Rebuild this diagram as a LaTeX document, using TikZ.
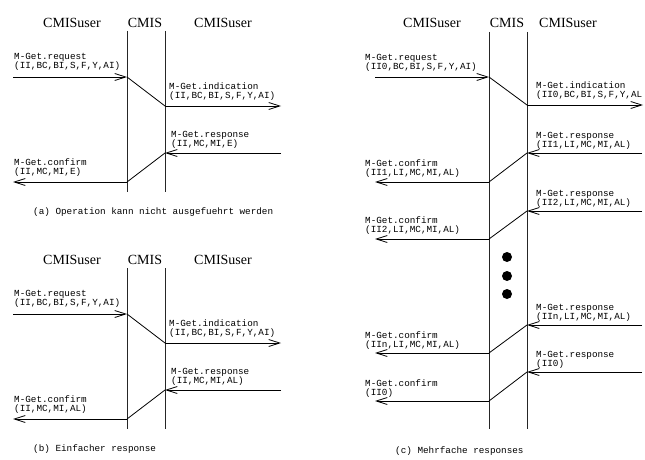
\documentclass[tikz,border=0pt]{standalone}
\usepackage{fontspec}
\setmainfont{Liberation Serif}
\setmonofont{Liberation Mono}
\usepackage{tikz}
\usetikzlibrary{arrows.meta, positioning}
\newcommand{\msgfont}{\fontsize{9.3}{9.8}\selectfont\ttfamily}
\newcommand{\headfont}{\fontsize{14}{16}\selectfont\rmfamily}

\begin{document}
\begin{tikzpicture}[
    x=1pt, y=-1pt,
    head/.style={font=\headfont, inner sep=0pt},
    msg/.style={font=\msgfont, align=left, inner sep=0pt},
    caption/.style={font=\msgfont, inner sep=0pt, anchor=west},
    lifeline/.style={line width=0.8pt, draw=black!85},
    arrow/.style={-{Straight Barb[length=11pt, width=7pt]}, line width=0.8pt},
    link/.style={line width=0.8pt},
    dot/.style={circle, fill=black, inner sep=0pt, minimum size=10pt}
]
\useasboundingbox (0,0) rectangle (645,460);

% panels (a) and (b): single request, single response
\foreach \p/\dy/\rsp/\cap in {a/0/E/{(a) Operation kann nicht ausgefuehrt werden},
                              b/237/AL/{(b) Einfacher response}} {
  \begin{scope}[yshift=-\dy pt]
    \node[head] (\p-userL) at (72,23)  {CMISuser};
    \node[head] (\p-cmis)  at (145,23) {CMIS};
    \node[head] (\p-userR) at (223,23) {CMISuser};

    \coordinate (\p-lt) at (127,31);  \coordinate (\p-lb) at (127,192);
    \coordinate (\p-rt) at (165,31);  \coordinate (\p-rb) at (165,192);
    \draw[lifeline] (\p-lt) -- (\p-lb);
    \draw[lifeline] (\p-rt) -- (\p-rb);

    \coordinate (\p-req0) at (13,77);   \coordinate (\p-req1) at (127,77);
    \coordinate (\p-ind0) at (165,106); \coordinate (\p-ind1) at (281,106);
    \coordinate (\p-rsp0) at (281,153); \coordinate (\p-rsp1) at (165,153);
    \coordinate (\p-cnf0) at (127,182); \coordinate (\p-cnf1) at (13,182);

    \draw[arrow] (\p-req0) -- (\p-req1);
    \draw[link]  (\p-req1) -- (\p-ind0);
    \draw[arrow] (\p-ind0) -- (\p-ind1);
    \draw[arrow] (\p-rsp0) -- (\p-rsp1);
    \draw[link]  (\p-rsp1) -- (\p-cnf0);
    \draw[arrow] (\p-cnf0) -- (\p-cnf1);

    \node[msg, above right=6pt and 1pt of \p-req0] (\p-reqlab)
         {M-Get.request\\(II,BC,BI,S,F,Y,AI)};
    \node[msg, above right=5pt and 4pt of \p-ind0] (\p-indlab)
         {M-Get.indication\\(II,BC,BI,S,F,Y,AI)};
    \node[msg, above right=4pt and 6pt of \p-rsp1] (\p-rsplab)
         {M-Get.response\\(II,MC,MI,\rsp)};
    \node[msg, above right=5pt and 1pt of \p-cnf1] (\p-cnflab)
         {M-Get.confirm\\(II,MC,MI,\rsp)};

    \node[caption] (\p-caption) at (33,212) {\cap};
  \end{scope}
}

% panel (c): multiple responses
\node[head] (c-userL) at (432,23) {CMISuser};
\node[head] (c-cmis)  at (507,23) {CMIS};
\node[head] (c-userR) at (568,23) {CMISuser};

\coordinate (c-lt) at (489,32);  \coordinate (c-lb) at (489,429);
\coordinate (c-rt) at (527,32);  \coordinate (c-rb) at (527,429);
\draw[lifeline] (c-lt) -- (c-lb);
\draw[lifeline] (c-rt) -- (c-rb);

\coordinate (c-req0) at (375,77);  \coordinate (c-req1) at (489,77);
\coordinate (c-ind0) at (527,105); \coordinate (c-ind1) at (643,105);
\draw[arrow] (c-req0) -- (c-req1);
\draw[link]  (c-req1) -- (c-ind0);
\draw[arrow] (c-ind0) -- (c-ind1);
\node[msg, above right=5pt and -10pt of c-req0] (c-reqlab)
     {M-Get.request\\(II0,BC,BI,S,F,Y,AI)};
\node[msg, above right=5pt and 9pt of c-ind0] (c-indlab)
     {M-Get.indication\\(II0,BC,BI,S,F,Y,AL};

% response / confirm pairs
\coordinate (c-rspA0) at (642,153); \coordinate (c-rspA1) at (527,153);
\coordinate (c-cnfA0) at (489,182); \coordinate (c-cnfA1) at (375,182);
\coordinate (c-rspB0) at (642,211); \coordinate (c-rspB1) at (527,211);
\coordinate (c-cnfB0) at (489,239); \coordinate (c-cnfB1) at (375,239);
\coordinate (c-rspN0) at (642,325); \coordinate (c-rspN1) at (527,325);
\coordinate (c-cnfN0) at (489,353); \coordinate (c-cnfN1) at (375,353);
\coordinate (c-rspZ0) at (642,372); \coordinate (c-rspZ1) at (527,372);
\coordinate (c-cnfZ0) at (489,401); \coordinate (c-cnfZ1) at (375,401);

\draw[arrow] (c-rspA0) -- (c-rspA1);
\draw[link]  (c-rspA1) -- (c-cnfA0);
\draw[arrow] (c-cnfA0) -- (c-cnfA1);
\draw[arrow] (c-rspB0) -- (c-rspB1);
\draw[link]  (c-rspB1) -- (c-cnfB0);
\draw[arrow] (c-cnfB0) -- (c-cnfB1);
\draw[arrow] (c-rspN0) -- (c-rspN1);
\draw[link]  (c-rspN1) -- (c-cnfN0);
\draw[arrow] (c-cnfN0) -- (c-cnfN1);
\draw[arrow] (c-rspZ0) -- (c-rspZ1);
\draw[link]  (c-rspZ1) -- (c-cnfZ0);
\draw[arrow] (c-cnfZ0) -- (c-cnfZ1);

\node[msg, above right=3pt and 9pt of c-rspA1] (c-rspAlab)
     {M-Get.response\\(II1,LI,MC,MI,AL)};
\node[msg, above right=4pt and -10pt of c-cnfA1] (c-cnfAlab)
     {M-Get.confirm\\(II1,LI,MC,MI,AL)};
\node[msg, above right=3pt and 9pt of c-rspB1] (c-rspBlab)
     {M-Get.response\\(II2,LI,MC,MI,AL)};
\node[msg, above right=4pt and -10pt of c-cnfB1] (c-cnfBlab)
     {M-Get.confirm\\(II2,LI,MC,MI,AL)};
\node[msg, above right=3pt and 9pt of c-rspN1] (c-rspNlab)
     {M-Get.response\\(IIn,LI,MC,MI,AL)};
\node[msg, above right=3pt and -10pt of c-cnfN1] (c-cnfNlab)
     {M-Get.confirm\\(IIn,LI,MC,MI,AL)};
\node[msg, above right=3pt and 9pt of c-rspZ1] (c-rspZlab)
     {M-Get.response\\(II0)};
\node[msg, above right=3pt and -10pt of c-cnfZ1] (c-cnfZlab)
     {M-Get.confirm\\(II0)};

\node[dot] (c-dot1) at (507,257) {};
\node[dot] (c-dot2) at (507,276) {};
\node[dot] (c-dot3) at (507,294) {};

\node[caption] (c-caption) at (395,451) {(c) Mehrfache responses};

\end{tikzpicture}
\end{document}
